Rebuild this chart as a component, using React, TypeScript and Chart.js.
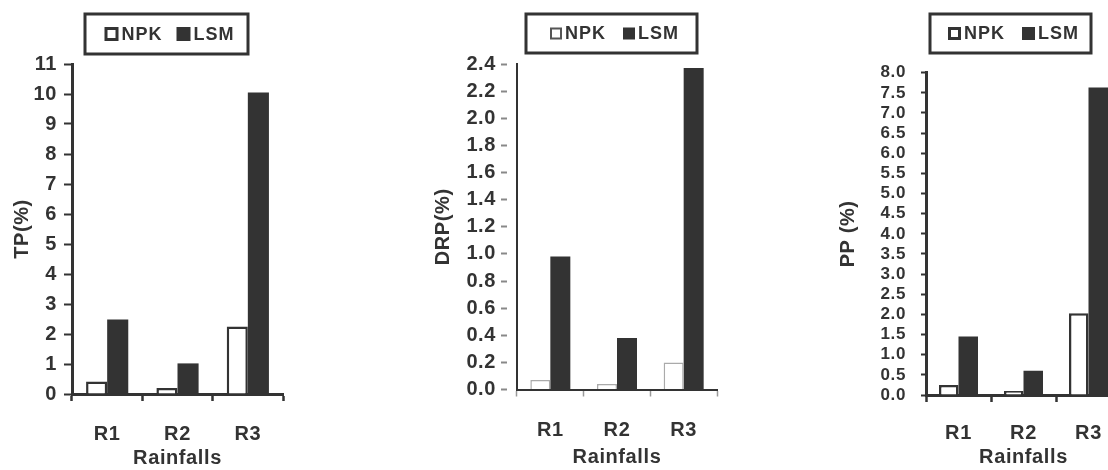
import React, { useEffect, useRef } from 'react';
import { Chart, registerables } from 'chart.js';

Chart.register(...registerables);

// ---------- data ----------
const categories = ['R1', 'R2', 'R3'];
const seriesNames = ['NPK', 'LSM'];
const xTitle = 'Rainfalls';

const tpNPK = [0.42, 0.2, 2.25];
const tpLSM = [2.48, 1.02, 10.05];
const drpNPK = [0.07, 0.04, 0.2];
const drpLSM = [0.98, 0.38, 2.37];
const ppNPK = [0.25, 0.1, 2.03];
const ppLSM = [1.45, 0.6, 7.63];

const yTitles = ['TP(%)', 'DRP(%)', 'PP (%)'];
const yMaxes = [11, 2.4, 8];
const ySteps = [1, 0.2, 0.5];
const yDecimals = [0, 1, 1];

const DARK = '#333333';
const FONT = '"Liberation Sans", Arial, sans-serif';

// ---------- boxed legend plugin ----------
const boxLegend = {
  id: 'boxLegend',
  beforeDraw(chart: any) {
    (chart.ctx as any).letterSpacing = '0.6px';
  },
  afterDraw(chart: any, _args: any, o: any) {
    if (!o || !o.w) return;
    const ctx = chart.ctx;
    ctx.save();
    (ctx as any).letterSpacing = '1px';
    ctx.lineWidth = 3;
    ctx.strokeStyle = DARK;
    ctx.strokeRect(o.x, o.y, o.w, o.h);
    ctx.font = 'bold 18px ' + FONT;
    ctx.textBaseline = 'middle';
    ctx.textAlign = 'left';
    const items = chart.data.datasets.map((ds: any, i: number) => ({
      label: ds.label,
      tw: ctx.measureText(ds.label).width,
      i,
    }));
    const sq = o.sq;
    const total =
      items.reduce((s: number, it: any) => s + sq + 3 + it.tw, 0) + o.gap * (items.length - 1);
    let cx = o.x + (o.w - total) / 2 + o.shift;
    const cy = o.y + o.h / 2;
    items.forEach((it: any) => {
      if (it.i === 0) {
        ctx.fillStyle = '#ffffff';
        ctx.fillRect(cx, cy - sq / 2, sq, sq);
        ctx.lineWidth = o.npkLine;
        ctx.strokeStyle = o.npkColor;
        ctx.strokeRect(cx + o.npkLine / 2, cy - sq / 2 + o.npkLine / 2, sq - o.npkLine, sq - o.npkLine);
      } else {
        ctx.fillStyle = DARK;
        ctx.fillRect(cx, cy - sq / 2, sq, sq);
      }
      cx += sq + 3;
      ctx.fillStyle = DARK;
      ctx.fillText(it.label, cx, cy + 1);
      cx += it.tw + o.gap;
    });
    ctx.restore();
  },
};

type PanelCfg = {
  left: number;
  width: number;
  npk: number[];
  lsm: number[];
  idx: number;
  yWidth: number;
  plotTop: number;
  plotBottom: number;
  rightPad: number;
  yTitlePad: number;
  yTickLen: number;
  yTickPad: number;
  yTickColor: string;
  yTickDash: number[];
  yFont: number;
  axisW: number;
  axisColor: string;
  xTickColor: string;
  xTickW: number;
  npkBorder: string;
  npkBorderW: number;
  xLabelPad: number;
  xTitlePad: number;
  legend: any;
};

const panels: PanelCfg[] = [
  {
    left: 0, width: 300, npk: tpNPK, lsm: tpLSM, idx: 0,
    yWidth: 72, plotTop: 64, plotBottom: 394, rightPad: 17,
    yTitlePad: 10, yTickLen: 8, yTickPad: 7, yTickColor: DARK, yTickDash: [], yFont: 20,
    axisW: 3, axisColor: DARK, xTickColor: DARK, xTickW: 2.5,
    npkBorder: DARK, npkBorderW: 2.5, xLabelPad: 21.5, xTitlePad: 0,
    legend: { x: 85, y: 14, w: 163, h: 40, sq: 14, gap: 14, shift: 3, npkLine: 3, npkColor: DARK },
  },
  {
    left: 420, width: 300, npk: drpNPK, lsm: drpLSM, idx: 1,
    yWidth: 97, plotTop: 64, plotBottom: 389.5, rightPad: 3,
    yTitlePad: 11, yTickLen: 16, yTickPad: 5, yTickColor: '#888888', yTickDash: [6, 10], yFont: 20,
    axisW: 2, axisColor: DARK, xTickColor: '#999999', xTickW: 1.5,
    npkBorder: '#aaaaaa', npkBorderW: 1.5, xLabelPad: 21.5, xTitlePad: 1,
    legend: { x: 106, y: 14, w: 171, h: 39, sq: 12, gap: 17, shift: 3, npkLine: 2, npkColor: '#555555' },
  },
  {
    left: 820, width: 320, npk: ppNPK, lsm: ppLSM, idx: 2,
    yWidth: 106, plotTop: 72.7, plotBottom: 395, rightPad: 19,
    yTitlePad: 16, yTickLen: 5, yTickPad: 15, yTickColor: DARK, yTickDash: [], yFont: 17,
    axisW: 3, axisColor: DARK, xTickColor: DARK, xTickW: 2.5,
    npkBorder: DARK, npkBorderW: 2.5, xLabelPad: 19, xTitlePad: 1,
    legend: { x: 110, y: 14, w: 161, h: 39, sq: 13, gap: 17, shift: 3, npkLine: 3, npkColor: DARK },
  },
];

function Panel({ cfg }: { cfg: PanelCfg }) {
  const ref = useRef<HTMLCanvasElement>(null);
  useEffect(() => {
    if (!ref.current) return;
    const H = 470;
    const xHeight = H - cfg.plotBottom;
    const chart = new Chart(ref.current, {
      type: 'bar',
      data: {
        labels: categories,
        datasets: [
          {
            label: seriesNames[0],
            data: cfg.npk,
            backgroundColor: '#ffffff',
            borderColor: cfg.npkBorder,
            borderWidth: cfg.npkBorderW,
            barPercentage: 1,
            categoryPercentage: 0.6,
          },
          {
            label: seriesNames[1],
            data: cfg.lsm,
            backgroundColor: DARK,
            borderColor: DARK,
            borderWidth: 0,
            barPercentage: 1,
            categoryPercentage: 0.6,
          },
        ],
      },
      options: {
        responsive: false,
        animation: false,
        devicePixelRatio: 1,
        layout: { padding: { left: 0, top: cfg.plotTop, right: cfg.rightPad, bottom: 0 } },
        plugins: {
          legend: { display: false },
          tooltip: { enabled: false },
          boxLegend: cfg.legend,
        } as any,
        scales: {
          x: {
            grid: {
              display: true,
              drawOnChartArea: false,
              drawTicks: true,
              tickLength: 7,
              tickColor: cfg.xTickColor,
              tickWidth: cfg.xTickW,
              offset: true,
            },
            border: { display: true, color: cfg.axisColor, width: cfg.axisW },
            ticks: {
              color: DARK,
              font: { family: FONT, size: 20, weight: 'bold' },
              padding: cfg.xLabelPad,
              maxRotation: 0,
              autoSkip: false,
            },
            title: {
              display: true,
              text: xTitle,
              color: DARK,
              font: { family: FONT, size: 20, weight: 'bold' },
              padding: { top: 0, bottom: cfg.xTitlePad },
            },
            afterFit: (s: any) => {
              s.height = xHeight;
            },
          },
          y: {
            min: 0,
            max: yMaxes[cfg.idx],
            grid: {
              display: true,
              drawOnChartArea: false,
              drawTicks: true,
              tickLength: cfg.yTickLen,
              tickColor: cfg.yTickColor,
              tickWidth: 2,
              tickBorderDash: cfg.yTickDash,
            },
            border: { display: true, color: cfg.axisColor, width: cfg.axisW },
            ticks: {
              stepSize: ySteps[cfg.idx],
              autoSkip: false,
              color: DARK,
              padding: cfg.yTickPad,
              font: { family: FONT, size: cfg.yFont, weight: 'bold' },
              callback: (v: any) => Number(v).toFixed(yDecimals[cfg.idx]),
            },
            title: {
              display: true,
              text: yTitles[cfg.idx],
              color: DARK,
              font: { family: FONT, size: 20, weight: 'bold' },
              padding: { top: cfg.yTitlePad, bottom: 0 },
            },
            afterFit: (s: any) => {
              s.width = cfg.yWidth;
            },
          },
        },
      } as any,
      plugins: [boxLegend],
    });
    return () => chart.destroy();
  }, [cfg]);
  return (
    <canvas
      ref={ref}
      width={cfg.width}
      height={470}
      style={{ position: 'absolute', left: cfg.left, top: 0, width: cfg.width, height: 470 }}
    />
  );
}

export default function App() {
  return (
    <div
      style={{
        position: 'fixed',
        left: 0,
        top: 0,
        width: 1108,
        height: 470,
        overflow: 'hidden',
        background: '#ffffff',
      }}
    >
      {panels.map((p, i) => (
        <Panel key={i} cfg={p} />
      ))}
    </div>
  );
}
